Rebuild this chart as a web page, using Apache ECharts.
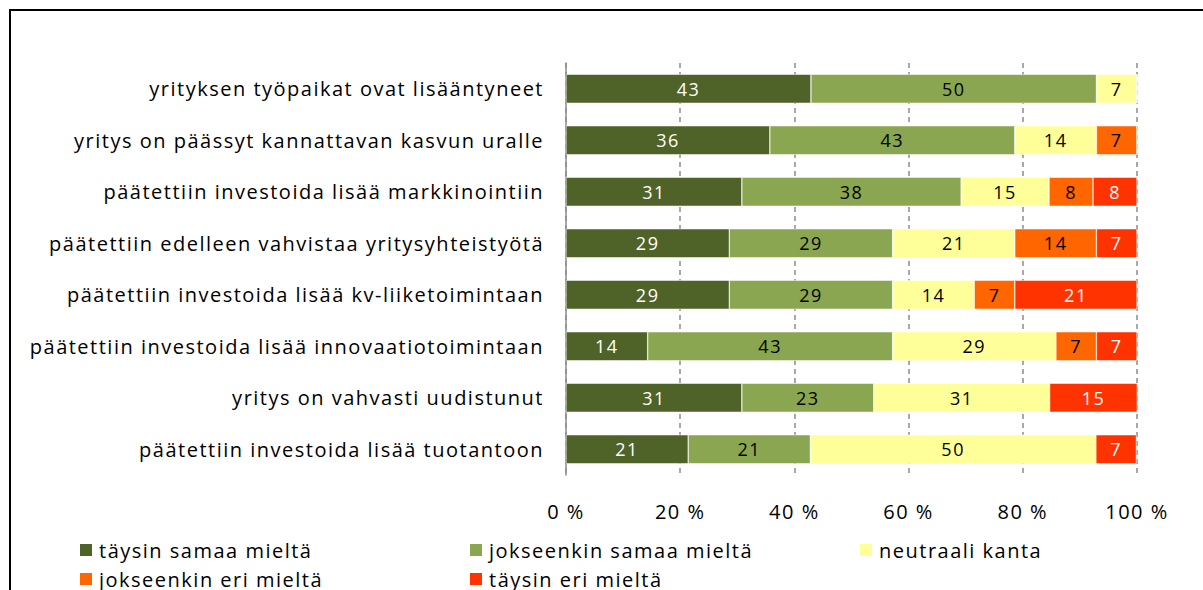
<!DOCTYPE html>
<html>
<head>
<meta charset="utf-8">
<script src="https://cdn.jsdelivr.net/npm/echarts@6/dist/echarts.min.js"></script>
<style>
  body { margin: 0; background: #fff; }
  #frame { position: absolute; left: 9px; top: 9px; width: 1300px; height: 700px; border-top: 2px solid #000; border-left: 2px solid #000; }
  #chart { position: absolute; left: 0; top: 0; width: 1203px; height: 590px; letter-spacing: 1.5px; }
</style>
</head>
<body>
<div id="frame"></div>
<div id="chart"></div>
<script>
const categories = [
  'yrityksen työpaikat ovat lisääntyneet',
  'yritys on päässyt kannattavan kasvun uralle',
  'päätettiin investoida lisää markkinointiin',
  'päätettiin edelleen vahvistaa yritysyhteistyötä',
  'päätettiin investoida lisää kv-liiketoimintaan',
  'päätettiin investoida lisää innovaatiotoimintaan',
  'yritys on vahvasti uudistunut',
  'päätettiin investoida lisää tuotantoon'
]
const seriesNames = ['täysin samaa mieltä', 'jokseenkin samaa mieltä', 'neutraali kanta', 'jokseenkin eri mieltä', 'täysin eri mieltä']
const taysinSamaa = [42.9, 35.7, 30.8, 28.6, 28.6, 14.3, 30.8, 21.4]
const jokseenkinSamaa = [50.0, 42.9, 38.4, 28.6, 28.6, 42.9, 23.1, 21.4]
const neutraali = [7.1, 14.3, 15.4, 21.4, 14.3, 28.6, 30.8, 50.0]
const jokseenkinEri = [0, 7.1, 7.7, 14.3, 7.1, 7.1, 0, 0]
const taysinEri = [0, 0, 7.7, 7.1, 21.4, 7.1, 15.4, 7.1]
const xTicks = [0, 20, 40, 60, 80, 100]

const colors = ['#4F6228', '#8AA650', '#FFFF99', '#FF6600', '#FF3300']
const labelColors = ['#fff', '#000', '#000', '#000', '#fff']
const values = [taysinSamaa, jokseenkinSamaa, neutraali, jokseenkinEri, taysinEri]
const font = '"Open Sans", "Liberation Sans", sans-serif'

const chart = echarts.init(document.getElementById('chart'), null, { renderer: 'svg' })

const legendPos = [[78, 540], [468, 540], [858, 540], [78, 569], [468, 569]]

chart.setOption({
  animation: false,
  grid: { left: 566, right: 66, top: 63, bottom: 115 },
  legend: seriesNames.map((n, i) => ({
    data: [n],
    left: legendPos[i][0],
    top: legendPos[i][1],
    padding: 0,
    icon: 'rect',
    itemWidth: 14,
    itemHeight: 14,
    itemGap: 6,
    textStyle: { fontFamily: font, fontSize: 20, color: '#000', padding: [0, 0, 0, 1] }
  })),
  xAxis: {
    type: 'value',
    min: xTicks[0],
    max: xTicks[xTicks.length - 1],
    interval: 20,
    axisLine: { show: false },
    axisTick: { show: false },
    axisLabel: { formatter: '{value} %', fontFamily: font, fontSize: 20, color: '#000', margin: 26 },
    splitLine: { lineStyle: { type: [5, 4], color: '#8c8c8c', width: 1.5 } }
  },
  yAxis: {
    type: 'category',
    data: categories,
    inverse: true,
    axisLine: { lineStyle: { color: '#8c8c8c', width: 1.5 } },
    axisTick: { show: false },
    axisLabel: { fontFamily: font, fontSize: 20, color: '#000', margin: 22 }
  },
  series: seriesNames.map((n, i) => ({
    name: n,
    type: 'bar',
    stack: 'all',
    barWidth: 29,
    data: values[i],
    itemStyle: { color: colors[i], borderColor: '#fff', borderWidth: 0.5 },
    label: {
      show: true,
      position: 'inside',
      fontFamily: font,
      fontSize: 18,
      color: labelColors[i],
      formatter: p => p.value > 0 ? Math.round(p.value) : ''
    }
  }))
})
</script>
</body>
</html>
